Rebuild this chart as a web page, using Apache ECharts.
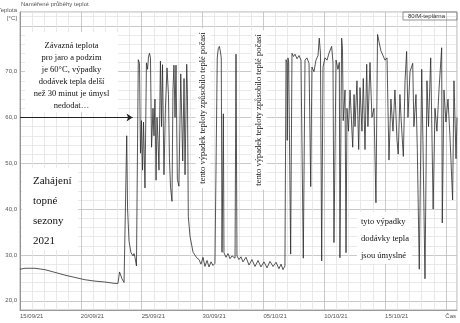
<!DOCTYPE html>
<html><head><meta charset="utf-8">
<script src="https://cdn.jsdelivr.net/npm/echarts@6/dist/echarts.min.js"></script>
<style>html,body{margin:0;padding:0;background:#fff}#c{width:460px;height:323px}</style>
</head><body><div id="c"></div>
<script>
const chartTitle = 'Naměřené průběhy teplot';
const seriesName = '80/M-teplárna';
const yAxisName = 'Teplota\n[°C]';
const xAxisName = 'Čas';
const xTickDays = [0, 5, 10, 15, 20, 25, 30];
const xTickLabels = ['15/09/21','20/09/21','25/09/21','30/09/21','05/10/21','10/10/21','15/10/21'];
const yTickValues = [20, 30, 40, 50, 60, 70];
const yTickLabels = ['20,0','30,0','40,0','50,0','60,0','70,0'];
const arrowFrom = [0, 60];
const arrowTo = [9.25, 60];

const noteRule = ['Závazná teplota','pro jaro a podzim','je 60°C, výpadky','dodávek tepla delší','než 30 minut je úmysl','nedodat…'];
const noteStart = ['Zahájení','topné','sezony','2021'];
const noteWeather = 'tento výpadek teploty způsobilo teplé počasí';
const noteIntent = ['tyto výpadky','dodávky tepla','jsou úmyslné'];

// days since 15/09/21 00:00
const dayOffsets = [
0.00,0.41,1.23,2.05,2.88,3.70,4.52,5.34,6.16,6.98,7.81,8.05,8.18,8.38,8.55,8.71,8.77,8.84,8.96,9.12,
9.29,9.37,9.45,9.57,9.66,9.72,9.82,9.90,9.98,10.07,10.15,10.27,10.39,10.48,10.56,10.64,10.72,10.81,10.93,11.01,
11.09,11.18,11.26,11.34,11.42,11.54,11.63,11.71,11.83,11.95,12.08,12.20,12.28,12.37,12.49,12.57,12.65,12.74,12.82,12.93,
13.06,13.21,13.37,13.48,13.56,13.70,13.76,13.83,13.97,14.22,14.52,14.71,14.87,15.04,15.20,15.37,15.53,15.70,15.86,16.02,
16.16,16.21,16.29,16.38,16.46,16.54,16.60,16.65,16.71,16.76,16.93,17.09,17.26,17.42,17.67,17.75,17.83,17.99,18.16,18.32,
18.57,18.82,19.06,19.31,19.56,19.80,20.05,20.30,20.54,20.79,21.04,21.28,21.45,21.61,21.77,21.86,21.94,21.96,22.02,22.08,
22.24,22.35,22.47,22.60,22.76,22.93,23.09,23.28,23.42,23.58,23.75,23.89,23.99,24.16,24.32,24.49,24.59,24.69,24.79,24.90,
25.06,25.23,25.39,25.61,25.72,25.80,25.97,26.13,26.24,26.29,26.43,26.50,26.56,26.71,26.79,26.87,26.99,27.12,27.34,27.45,
27.53,27.69,27.83,27.94,28.10,28.21,28.35,28.49,28.59,28.76,28.92,29.09,29.25,29.38,29.50,29.66,29.83,29.99,30.16,30.32,
30.48,30.65,30.81,30.98,31.08,31.22,31.31,31.50,31.64,31.77,31.88,32.05,32.27,32.37,32.54,32.65,32.81,33.01,33.11,33.28,
33.44,33.57,33.75,33.95,34.10,34.26,34.43,34.65,34.70,34.84,35.00,35.17,35.33,35.55,35.66,35.83,35.91
];
const temperatures = [
26.9,27.1,27.1,26.8,26.2,25.6,25.1,24.6,24.3,24.1,23.8,23.8,26.3,24.8,24.0,24.2,56.0,40.0,33.0,30.5,
29.8,30.3,29.5,27.6,27.8,72.6,71.8,52.2,59.3,48.5,59.0,44.6,71.9,70.5,73.2,74.0,73.0,53.5,62.0,56.0,
64.0,46.3,60.0,55.0,48.5,72.3,58.0,71.5,47.5,62.0,70.8,65.0,51.0,44.8,41.7,66.0,71.4,60.0,71.4,46.5,
45.0,69.5,50.5,68.5,47.5,71.6,65.0,38.4,34.1,30.6,29.4,29.0,28.0,29.5,27.5,28.8,27.4,28.5,27.7,28.2,
28.4,73.0,75.0,75.5,74.5,73.0,30.6,30.2,60.8,30.5,29.5,30.3,29.2,29.8,29.3,73.8,29.8,29.0,29.6,28.5,
29.5,27.8,29.0,27.5,28.8,27.4,28.5,27.2,28.6,27.5,28.4,27.0,28.0,26.8,27.6,72.6,72.0,55.0,73.0,72.0,
30.2,74.0,73.3,73.8,72.8,73.5,72.5,29.3,72.5,73.0,71.8,44.9,71.0,70.0,72.5,73.5,77.3,74.0,28.7,71.0,
73.0,72.5,74.0,75.5,72.0,32.7,72.5,70.5,72.0,29.4,77.3,75.0,59.3,66.0,30.5,62.0,57.0,66.0,53.5,65.0,
58.0,68.0,53.0,66.5,57.0,68.5,53.0,71.6,58.0,72.0,60.0,62.0,41.4,78.1,76.5,74.5,73.5,72.5,73.0,50.7,
64.0,57.0,66.0,55.0,52.0,65.0,60.0,51.5,68.0,74.4,60.0,70.0,71.8,58.0,65.0,53.0,26.9,70.5,55.0,24.8,
68.0,58.0,73.0,40.0,62.0,57.0,66.0,75.2,37.0,66.0,59.0,64.0,56.0,42.0,68.0,51.0,60.0
];

const seriesData = dayOffsets.map((d, i) => [d, temperatures[i]]);
const MINOR = '#e3e3e3', MAJOR = '#bdbdbd';
const serif = '"Liberation Serif","DejaVu Serif",serif';
const sans = '"Liberation Sans","DejaVu Sans",sans-serif';

const chart = echarts.init(document.getElementById('c'), null, {renderer: 'canvas'});
chart.setOption({
  animation: false,
  backgroundColor: '#ffffff',
  title: {text: chartTitle, left: 21, top: 1, padding: 0,
    textStyle: {fontSize: 6, fontWeight: 'normal', color: '#555', fontFamily: sans}},
  legend: {data: [seriesName], right: 3, top: 12, itemWidth: 0, itemHeight: 0, icon: 'rect',
    borderColor: '#777', borderWidth: 0.8, padding: [1, 12, 1, 0],
    textStyle: {fontSize: 6, color: '#333', fontFamily: sans}},
  grid: {left: 20, right: 3, top: 12, bottom: 13, show: true, borderColor: '#999', borderWidth: 0.8,
    containLabel: false, outerBoundsMode: 'none'},
  xAxis: {
    type: 'value', min: 0, max: 35.91, interval: 1,
    name: xAxisName, nameLocation: 'end', nameGap: 0,
    nameTextStyle: {fontSize: 6, color: '#555', align: 'right', verticalAlign: 'top', padding: [3, 1, 0, 0], fontFamily: sans},
    axisLine: {show: true, lineStyle: {color: '#888', width: 0.8}},
    axisTick: {show: false},
    axisLabel: {fontSize: 6, color: '#555', margin: 3, align: 'left', fontFamily: sans,
      showMaxLabel: false,
      formatter: v => { const i = xTickDays.indexOf(v); return i >= 0 ? xTickLabels[i] : ''; }},
    splitLine: {show: true, lineStyle: {color: [MAJOR, MINOR, MINOR, MINOR, MINOR], width: 0.8}}
  },
  yAxis: {
    type: 'value', min: 18, max: 83, interval: 2,
    name: yAxisName, nameLocation: 'end', nameGap: -2,
    nameTextStyle: {fontSize: 6, color: '#555', align: 'right', verticalAlign: 'middle', lineHeight: 8, padding: [0, 3, 0, 0], fontFamily: sans},
    axisLine: {show: true, lineStyle: {color: '#888', width: 0.8}},
    axisTick: {show: false},
    axisLabel: {fontSize: 6, color: '#555', margin: 3, fontFamily: sans,
      formatter: v => { const i = yTickValues.indexOf(v); return i >= 0 ? yTickLabels[i] : ''; }},
    splitLine: {show: true, lineStyle: {color: [MINOR, MAJOR, MINOR, MINOR, MINOR], width: 0.8}}
  },
  series: [{
    name: seriesName, type: 'line', data: seriesData, showSymbol: false, symbol: 'none',
    lineStyle: {color: '#2b2b2b', width: 0.8}, itemStyle: {color: '#2b2b2b'},
    markLine: {silent: true, symbol: ['none', 'arrow'], symbolSize: 6,
      lineStyle: {color: '#222', width: 1.2, type: 'solid'}, label: {show: false},
      data: [[{coord: arrowFrom}, {coord: arrowTo}]]}
  }],
  graphic: [
    {type: 'rect', z: 100, shape: {x: 25, y: 32, width: 93, height: 80}, style: {fill: '#fff'}},
    {type: 'text', z: 101, x: 71.5, y: 40, style: {text: noteRule.join('\n'), align: 'center', verticalAlign: 'top',
      font: '8.5px ' + serif, lineHeight: 12, fill: '#111'}},
    {type: 'rect', z: 100, shape: {x: 22, y: 168, width: 56, height: 82}, style: {fill: '#fff'}},
    {type: 'text', z: 101, x: 33, y: 171, style: {text: noteStart.join('\n'), align: 'left', verticalAlign: 'top',
      font: '11px ' + serif, lineHeight: 20, fill: '#111'}},
    {type: 'text', z: 101, x: 203, y: 108, rotation: Math.PI / 2, style: {text: noteWeather, align: 'center', verticalAlign: 'middle',
      font: '8.5px ' + serif, fill: '#111', backgroundColor: '#fff', padding: [3, 4]}},
    {type: 'text', z: 101, x: 259, y: 110, rotation: Math.PI / 2, style: {text: noteWeather, align: 'center', verticalAlign: 'middle',
      font: '8.5px ' + serif, fill: '#111', backgroundColor: '#fff', padding: [3, 4]}},
    {type: 'rect', z: 100, shape: {x: 357, y: 212, width: 55, height: 52}, style: {fill: '#fff'}},
    {type: 'text', z: 101, x: 361, y: 213, style: {text: noteIntent.join('\n'), align: 'left', verticalAlign: 'top',
      font: '8.5px ' + serif, lineHeight: 17, fill: '#111'}}
  ]
});
</script></body></html>
